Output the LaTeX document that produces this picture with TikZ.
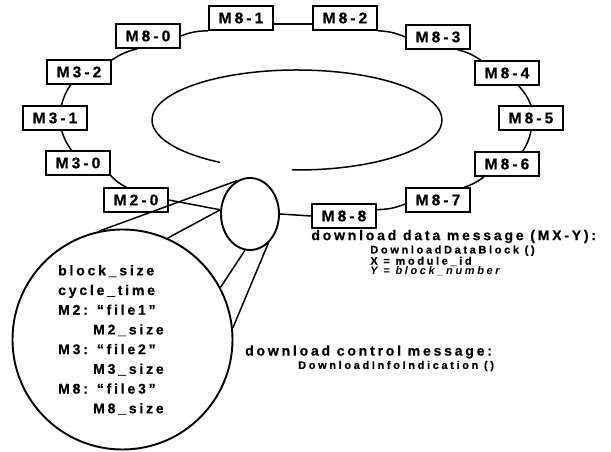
\documentclass[tikz,border=0pt]{standalone}
\usepackage{fontspec}
\setmainfont{Liberation Sans}
\newfontfamily\spacedfont[LetterSpace=20, BoldFeatures={FakeBold=0.6}]{Liberation Sans}
\newfontfamily\widefont[LetterSpace=24, BoldFeatures={FakeBold=0.6}]{Liberation Sans}
\newcommand\boxfont{\spacedfont\bfseries\fontsize{15.5}{17}\selectfont}
\newcommand\headfont{\spacedfont\bfseries\fontsize{14}{16}\selectfont}
\newcommand\paramfont{\spacedfont\bfseries\fontsize{14}{19.7}\selectfont}
\newcommand\subfont{\widefont\bfseries\fontsize{11}{10}\selectfont}
\usepackage{tikz}
\usetikzlibrary{positioning,shapes.geometric}

\begin{document}
\begin{tikzpicture}[x=1pt,y=1pt]

\tikzstyle{module} = [draw, rectangle, line width=1.6pt, minimum width=64pt, minimum height=24pt, inner sep=0pt, font=\boxfont]
\tikzstyle{wire} = [line width=1.5pt]
\tikzstyle{headtext} = [inner sep=0pt, font=\headfont]
\tikzstyle{subtext} = [inner sep=0pt, align=left, font=\subfont]

\useasboundingbox (0,0) rectangle (611,452);

% modules on the ring
\node [module] (m20) at (136,252) {M2-0};
\node [module] (m30) at (78,289) {M3-0};
\node [module] (m31) at (55,334) {M3-1};
\node [module] (m32) at (79,380) {M3-2};
\node [module] (m80) at (148,416) {M8-0};
\node [module] (m81) at (241,434) {M8-1};
\node [module] (m82) at (345,434) {M8-2};
\node [module] (m83) at (438,415) {M8-3};
\node [module] (m84) at (507,379) {M8-4};
\node [module] (m85) at (531,334) {M8-5};
\node [module] (m86) at (507,288) {M8-6};
\node [module] (m87) at (438,252) {M8-7};
\node [module] (m88) at (344,236) {M8-8};

% message and its contents
\node [draw, ellipse, line width=1.9pt, minimum width=58pt, minimum height=72pt, inner sep=0pt] (msg) at (250,238) {};
\node [draw, circle, line width=1.9pt, minimum size=220pt, inner sep=0pt] (detail) at (122.5,112.5) {};
\node [inner sep=0pt, align=left, font=\paramfont, anchor=north west] (params) at (58,187)
  {block\_size\\ cycle\_time\\ M2: “file1”\\ \hspace*{35pt}M2\_size\\ M3: “file2”\\ \hspace*{35pt}M3\_size\\ M8: “file3”\\ \hspace*{35pt}M8\_size};

\node [headtext, below right=1pt and 0pt of m88.south west] (datahead) {download data message (MX-Y):};
\node [subtext, below right=2pt and 59pt of datahead.south west] (databody) {DownloadDataBlock ()\\ X = module\_id\\ \textit{Y = block\_number}};
\node [headtext, anchor=west] (ctrlhead) at (245,100) {download control message:};
\node [subtext, below right=2pt and 53pt of ctrlhead.south west] (ctrlbody) {DownloadInfoIndication ()};

% ring
\foreach \a/\b in {m20.127/m30.339, m30.117/m31.298, m31.63/m32.237, m32.20/m80.230,
                   m80.east/m81.south west, m82.south east/m83.west, m83.327/m84.154,
                   m84.312/m85.north, m85.south/m86.39, m86.209/m87.26, m87.187/m88.11}
  \draw [wire] (\a) to[bend left=10] (\b);
\draw [wire] ([yshift=-6pt]m81.east) -- ([yshift=-6pt]m82.west);
\draw [wire] (m20.east) -- (msg.172);
\draw [wire] (msg.east) -- (m88.west);

% inner loop
\draw [wire] (297,332) ++(268:145pt and 50pt) arc [start angle=268, end angle=598, x radius=145pt, y radius=50pt];

% zoom lines
\draw [wire] (detail.102) -- (msg.111);
\draw [wire] (detail.66) -- (msg.172);
\draw [wire] (detail.28) -- (msg.262);
\draw [wire] (detail.6) -- (msg.302);
\end{tikzpicture}
\end{document}
